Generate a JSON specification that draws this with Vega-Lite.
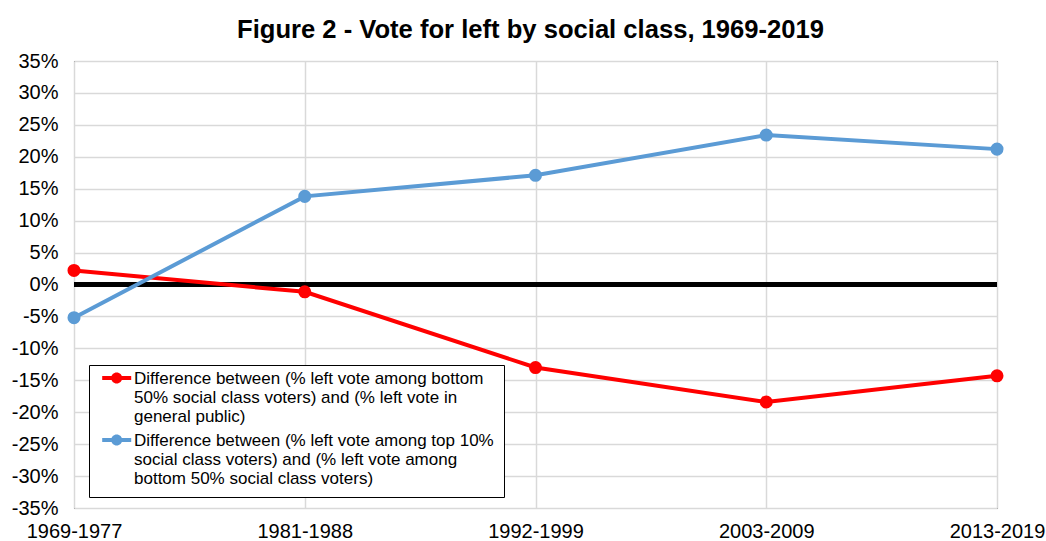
{
  "$schema": "https://vega.github.io/schema/vega-lite/v6.json",
  "autosize": "none",
  "width": 923,
  "height": 447,
  "padding": {"left": 74, "top": 61, "right": 49, "bottom": 33},
  "background": "white",
  "config": {
    "font": "Liberation Sans",
    "view": {"stroke": "#000", "strokeWidth": 1}
  },
  "title": {
    "text": "Figure 2 - Vote for left by social class, 1969-2019",
    "fontSize": 25.6,
    "fontWeight": "bold",
    "font": "Liberation Sans",
    "color": "#000",
    "anchor": "middle",
    "baseline": "bottom",
    "offset": 9,
    "dy": 27,
    "dx": -5
  },
  "data": {
    "values": [
      {"period": "1969-1977", "series": "bottom", "value": 2.2},
      {"period": "1981-1988", "series": "bottom", "value": -1.15},
      {"period": "1992-1999", "series": "bottom", "value": -13.0},
      {"period": "2003-2009", "series": "bottom", "value": -18.4},
      {"period": "2013-2019", "series": "bottom", "value": -14.3},
      {"period": "1969-1977", "series": "top", "value": -5.2},
      {"period": "1981-1988", "series": "top", "value": 13.8},
      {"period": "1992-1999", "series": "top", "value": 17.1},
      {"period": "2003-2009", "series": "top", "value": 23.4},
      {"period": "2013-2019", "series": "top", "value": 21.2}
    ]
  },
  "encoding": {
    "x": {
      "field": "period",
      "type": "ordinal",
      "scale": {"type": "point", "padding": 0},
      "axis": {
        "title": null,
        "labelAngle": 0,
        "labelFontSize": 20,
        "labelColor": "#000",
        "labelPadding": 13,
        "ticks": false,
        "domain": false,
        "grid": true,
        "gridColor": "#d9d9d9",
        "gridWidth": 1.5
      }
    },
    "y": {
      "field": "value",
      "type": "quantitative",
      "scale": {"domain": [-35, 35], "nice": false},
      "axis": {
        "title": null,
        "values": [-35, -30, -25, -20, -15, -10, -5, 0, 5, 10, 15, 20, 25, 30, 35],
        "labelExpr": "datum.value + '%'",
        "labelFontSize": 20,
        "labelColor": "#000",
        "labelPadding": 16,
        "ticks": false,
        "domain": false,
        "grid": true,
        "gridColor": "#d9d9d9",
        "gridWidth": 1.5
      }
    }
  },
  "layer": [
    {
      "mark": {"type": "rule", "color": "#000", "strokeWidth": 4},
      "encoding": {"y": {"datum": 0}, "x": null}
    },
    {
      "mark": {"type": "line", "strokeWidth": 4},
      "encoding": {
        "color": {
          "field": "series",
          "type": "nominal",
          "scale": {"domain": ["bottom", "top"], "range": ["#FF0000", "#5B9BD5"]},
          "legend": {
            "title": null,
            "orient": "none",
            "legendX": 15,
            "legendY": 304,
            "direction": "vertical",
            "strokeColor": "#000",
            "fillColor": "#fff",
            "padding": 10,
            "labelFontSize": 17,
            "labelColor": "#000",
            "labelLimit": 500,
            "labelLineHeight": 19.3,
            "labelBaseline": "alphabetic",
            "labelOffset": 18,
            "rowPadding": 6,
            "symbolType": "M-5.3,-7.5H23.7V-3.5H-5.3Z M14.7,-5.5A5.5,5.5 0 1,1 3.7,-5.5A5.5,5.5 0 1,1 14.7,-5.5Z",
            "symbolSize": 4,
            "symbolStrokeWidth": 0,
            "labelExpr": "datum.value == 'bottom' ? ['Difference between (% left vote among bottom', '50% social class voters) and (% left vote in', 'general public)'] : ['Difference between (% left vote among top 10%', 'social class voters) and (% left vote among', 'bottom 50% social class voters)']"
          }
        }
      }
    },
    {
      "mark": {"type": "point", "filled": true, "opacity": 1, "size": 170},
      "encoding": {
        "color": {"field": "series", "type": "nominal"}
      }
    }
  ]
}
